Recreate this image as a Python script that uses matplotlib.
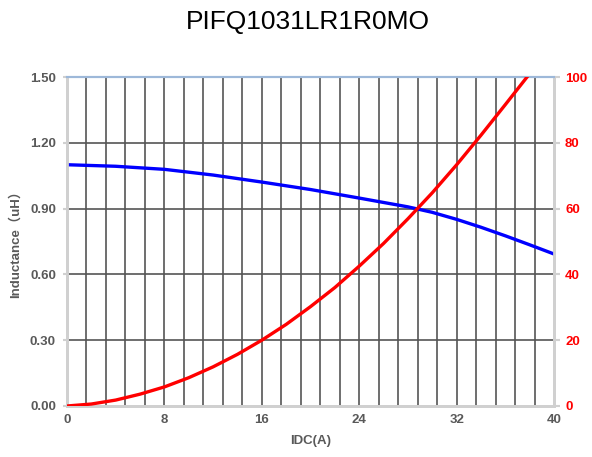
import numpy as np
import matplotlib.pyplot as plt

#===| data |=========================================================

# -- inductance curve (left axis, uH)
idcL = [0, 4, 8, 12, 16, 20, 24, 28, 30, 32, 34, 36, 38, 40]
induct = [1.100, 1.093, 1.079, 1.053, 1.021, 0.987, 0.948, 0.908, 0.883, 0.851, 0.815, 0.776, 0.735, 0.693]

# -- temperature rise curve (right axis)
idcT = [0, 2, 4, 6, 8, 10, 12, 14, 16, 18, 20, 22, 24, 26, 28, 30, 32, 34, 36, 38]
tempRise = [0, 0.6, 1.8, 3.6, 5.8, 8.6, 11.9, 15.7, 20, 24.8, 30.2, 36, 42.5,
            49.4, 56.9, 64.8, 73.3, 82.3, 91.6, 101]

xTicks = [0, 8, 16, 24, 32, 40]
yTicksL = [0.00, 0.30, 0.60, 0.90, 1.20, 1.50]
yTicksR = [0, 20, 40, 60, 80, 100]

#===| plot |=========================================================

plt.rcParams['font.family'] = ['Liberation Sans', 'Noto Sans CJK SC', 'DejaVu Sans']

fig = plt.figure(figsize=(5.92, 4.57), dpi=100)
ax = fig.add_axes([67/592, 1 - 406/457, (554 - 67)/592, (406 - 77)/457])
axT = ax.twinx()

gridCol = '#555555'
tickCol = '#595959'
spineCol = '#d0d0d0'

# -- grid
for xv in np.arange(1.6, 40, 1.6):
    ax.axvline(xv, color=gridCol, lw=1.2, zorder=1)
for yv in yTicksL[1:-1]:
    ax.axhline(yv, color=gridCol, lw=1.2, zorder=1)

ax.plot(idcL, induct, color='#0000ff', lw=2.4, zorder=3)
axT.plot(idcT, tempRise, color='#ff0000', lw=2.4, zorder=3)

ax.set_xlim(0, 40)
ax.set_ylim(0, 1.5)
axT.set_ylim(0, 100)

ax.set_xticks(xTicks)
ax.set_xticklabels([str(v) for v in xTicks])
ax.set_yticks(yTicksL)
ax.set_yticklabels(['%.2f' % v for v in yTicksL])
axT.set_yticks(yTicksR)
axT.set_yticklabels([str(v) for v in yTicksR])

for lab in ax.get_xticklabels() + ax.get_yticklabels():
    lab.set_fontweight('bold')
    lab.set_fontsize(9.5)
    lab.set_color(tickCol)
for lab in axT.get_yticklabels():
    lab.set_fontweight('bold')
    lab.set_fontsize(9.5)
    lab.set_color('#ff0000')

ax.tick_params(axis='x', length=0, pad=6)
ax.tick_params(axis='y', length=3, color=spineCol, width=1.5, pad=5)
axT.tick_params(axis='y', length=4, color=spineCol, width=1.5, pad=4)

for a in (ax, axT):
    for side in ('left', 'right', 'bottom'):
        a.spines[side].set_color(spineCol)
        a.spines[side].set_linewidth(2)
    a.spines['top'].set_color('#9db8d9')
    a.spines['top'].set_linewidth(1.5)

ax.set_xlabel('IDC(A)', fontweight='bold', fontsize=9.5, color=tickCol, labelpad=6)
ax.set_ylabel('Inductance（uH）', fontweight='bold', fontsize=9.5, color=tickCol, labelpad=6)

fig.text(308/592, 1 - 22/457, 'PIFQ1031LR1R0MO', ha='center', va='center',
         fontsize=19, color='black')

fig.savefig('out.png', dpi=100)
